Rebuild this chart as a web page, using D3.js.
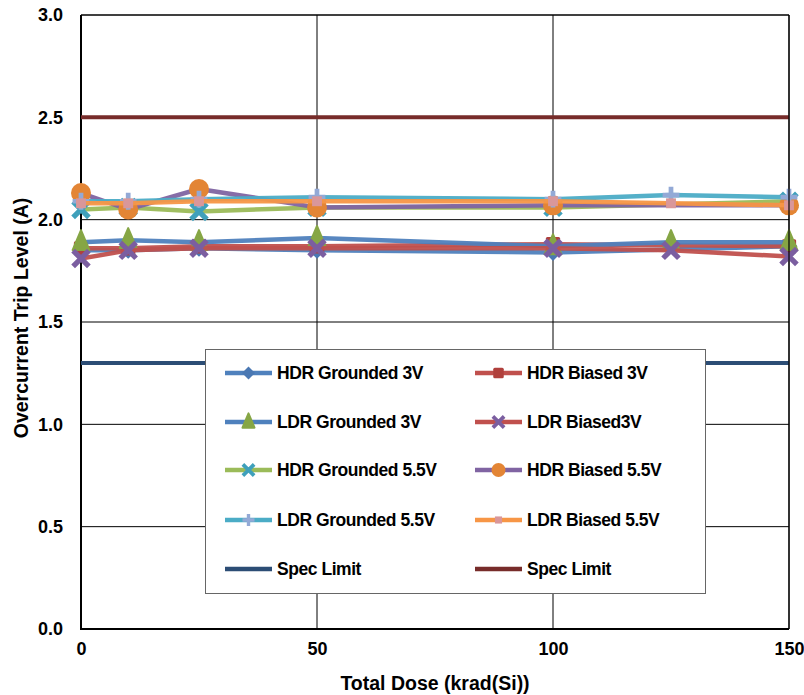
<!DOCTYPE html>
<html><head><meta charset="utf-8">
<script src="https://cdn.jsdelivr.net/npm/d3@7"></script>
<style>body{margin:0;background:#fff}svg{display:block;font-family:Arial,"Liberation Sans",sans-serif;font-weight:bold}</style>
</head><body><svg id="c" width="804" height="695"></svg>
<script>
const xHDR = [0, 10, 25, 50, 100, 150];
const xLDR = [0, 10, 25, 50, 100, 125, 150];
const hdrGrounded3 = [1.85, 1.85, 1.86, 1.85, 1.84, 1.87];
const hdrBiased3 = [1.86, 1.86, 1.87, 1.87, 1.88, 1.87];
const ldrGrounded3 = [1.89, 1.90, 1.89, 1.91, 1.87, 1.89, 1.89];
const ldrBiased3 = [1.81, 1.85, 1.86, 1.86, 1.86, 1.85, 1.82];
const hdrGrounded55 = [2.05, 2.06, 2.04, 2.06, 2.06, 2.09];
const hdrBiased55 = [2.13, 2.05, 2.15, 2.06, 2.07, 2.07];
const ldrGrounded55 = [2.09, 2.09, 2.10, 2.11, 2.10, 2.12, 2.11];
const ldrBiased55 = [2.08, 2.08, 2.09, 2.09, 2.09, 2.08, 2.07];
const specLow = 1.3, specHigh = 2.5;
const xTicks = [0, 50, 100, 150];
const yTicks = [0, 0.5, 1.0, 1.5, 2.0, 2.5, 3.0];

const series = [
  {name:"HDR Grounded 3V", xs:xHDR, ys:hdrGrounded3, line:"#4f81bd", mark:"diamond", mc:"#4a78b3"},
  {name:"HDR Biased 3V", xs:xHDR, ys:hdrBiased3, line:"#c0504d", mark:"square", mc:"#b0403c"},
  {name:"LDR Grounded 3V", xs:xLDR, ys:ldrGrounded3, line:"#4f81bd", mark:"triangle", mc:"#86a645"},
  {name:"LDR Biased3V", xs:xLDR, ys:ldrBiased3, line:"#c0504d", mark:"x", mc:"#7b5ea0"},
  {name:"HDR Grounded 5.5V", xs:xHDR, ys:hdrGrounded55, line:"#9bbb59", mark:"x", mc:"#3fa0bb"},
  {name:"HDR Biased 5.5V", xs:xHDR, ys:hdrBiased55, line:"#8064a2", mark:"circle", mc:"#e38535"},
  {name:"LDR Grounded 5.5V", xs:xLDR, ys:ldrGrounded55, line:"#4bacc6", mark:"plus", mc:"#93a9d6"},
  {name:"LDR Biased 5.5V", xs:xLDR, ys:ldrBiased55, line:"#f79646", mark:"smallsquare", mc:"#d9979a"}
];
const specs = [
  {name:"Spec Limit", v:specLow, color:"#2c4d75"},
  {name:"Spec Limit", v:specHigh, color:"#772c2a"}
];

const svg = d3.select("#c");
const L = 81, R = 789, T = 15, B = 629;
const x = d3.scaleLinear().domain([0,150]).range([L,R]);
const y = d3.scaleLinear().domain([0,3]).range([B,T]);

// gridlines
svg.append("g").selectAll("line").data(yTicks.filter(d=>d>0)).join("line")
  .attr("x1",L).attr("x2",R).attr("y1",d=>y(d)).attr("y2",d=>y(d))
  .attr("stroke","#000").attr("stroke-width",1);
svg.append("g").selectAll("line").data(xTicks.filter(d=>d>0)).join("line")
  .attr("y1",T).attr("y2",B).attr("x1",d=>x(d)).attr("x2",d=>x(d))
  .attr("stroke","#000").attr("stroke-width",1);

// axes
const yAxis = svg.append("g").attr("transform",`translate(${L},0)`)
  .call(d3.axisLeft(y).tickValues(yTicks).tickFormat(d3.format(".1f")).tickSize(0).tickPadding(18));
const xAxis = svg.append("g").attr("transform",`translate(0,${B})`)
  .call(d3.axisBottom(x).tickValues(xTicks).tickSize(0).tickPadding(13));
[yAxis,xAxis].forEach(a=>{a.select(".domain").remove();a.selectAll("text").attr("font-size",18).attr("font-weight","bold").attr("fill","#000").attr("font-family","Arial, Liberation Sans, sans-serif");});
svg.append("line").attr("x1",L).attr("x2",L).attr("y1",T).attr("y2",B+1).attr("stroke","#000").attr("stroke-width",2);
svg.append("line").attr("x1",L).attr("x2",R).attr("y1",B).attr("y2",B).attr("stroke","#000").attr("stroke-width",2);

// spec lines
svg.append("g").selectAll("line").data(specs).join("line")
  .attr("x1",x(0)).attr("x2",x(150)).attr("y1",d=>y(d.v)).attr("y2",d=>y(d.v))
  .attr("stroke",d=>d.color).attr("stroke-width",4);

function drawMarker(g, type, color, cx, cy, s){
  if(type==="diamond") g.append("path").attr("d",`M${cx},${cy-s}L${cx+s},${cy}L${cx},${cy+s}L${cx-s},${cy}Z`).attr("fill",color);
  else if(type==="square") g.append("rect").attr("x",cx-s*0.75).attr("y",cy-s*0.75).attr("width",s*1.5).attr("height",s*1.5).attr("rx",1.5).attr("fill",color);
  else if(type==="smallsquare") g.append("rect").attr("x",cx-s*0.55).attr("y",cy-s*0.55).attr("width",s*1.1).attr("height",s*1.1).attr("fill",color);
  else if(type==="triangle") g.append("path").attr("d",`M${cx},${cy-s*1.15}L${cx+s*0.8},${cy+s*0.75}L${cx-s*0.8},${cy+s*0.75}Z`).attr("fill",color).attr("stroke",color).attr("stroke-width",2).attr("stroke-linejoin","round");
  else if(type==="circle") g.append("circle").attr("cx",cx).attr("cy",cy).attr("r",s).attr("fill",color);
  else if(type==="x") g.append("path").attr("d",`M${cx-s*0.75},${cy-s*0.75}L${cx+s*0.75},${cy+s*0.75}M${cx-s*0.75},${cy+s*0.75}L${cx+s*0.75},${cy-s*0.75}`).attr("stroke",color).attr("stroke-width",s*0.5).attr("fill","none");
  else if(type==="plus") g.append("path").attr("d",`M${cx-s*0.8},${cy}L${cx+s*0.8},${cy}M${cx},${cy-s*0.8}L${cx},${cy+s*0.8}`).attr("stroke",color).attr("stroke-width",s*0.45).attr("fill","none");
}
const msize = {diamond:8.5, square:9.5, triangle:10.5, x:10.5, circle:10, plus:10.5, smallsquare:9};

const line = d3.line().x(d=>x(d[0])).y(d=>y(d[1]));
series.forEach(s=>{
  const pts = s.xs.map((v,i)=>[v,s.ys[i]]);
  const g = svg.append("g");
  g.append("path").attr("d",line(pts)).attr("fill","none").attr("stroke",s.line).attr("stroke-width",4.5).attr("stroke-linejoin","round").attr("stroke-opacity",0.95);
  pts.forEach(p=>drawMarker(g, s.mark, s.mc, x(p[0]), y(p[1]), msize[s.mark]));
});

// plot border (top/right)
svg.append("line").attr("x1",L).attr("x2",R).attr("y1",T).attr("y2",T).attr("stroke","#000").attr("stroke-width",1.2);
svg.append("line").attr("x1",R).attr("x2",R).attr("y1",T).attr("y2",B).attr("stroke","#000").attr("stroke-width",1.2);

// legend
const lg = svg.append("g");
lg.append("rect").attr("x",205.5).attr("y",349.5).attr("width",500).attr("height",244).attr("fill","#fff").attr("stroke","#666").attr("stroke-width",1);
const items = series.map(s=>({name:s.name, line:s.line, mark:s.mark, mc:s.mc})).concat(specs.map(s=>({name:s.name,line:s.color,mark:null})));
const rowY = [373, 422, 470, 520, 569];
const colX = [225, 475];
const ms2 = {diamond:6.5, square:7, triangle:7.5, x:7.5, circle:7, plus:7.5, smallsquare:6.5};
items.forEach((it,i)=>{
  const cx = colX[i%2], cy = rowY[Math.floor(i/2)];
  lg.append("line").attr("x1",cx).attr("x2",cx+47).attr("y1",cy).attr("y2",cy).attr("stroke",it.line).attr("stroke-width",4.5);
  if(it.mark) drawMarker(lg, it.mark, it.mc, cx+23.5, cy, ms2[it.mark]);
  lg.append("text").attr("x",cx+52).attr("y",cy).attr("dy","0.36em").attr("font-size",17.5).attr("letter-spacing","-0.45px").text(it.name);
});

// titles
svg.append("text").attr("x",x(75)).attr("y",690).attr("text-anchor","middle").attr("font-size",19.5).text("Total Dose (krad(Si))");
svg.append("text").attr("transform",`translate(28,318) rotate(-90)`).attr("text-anchor","middle").attr("font-size",19.5).text("Overcurrent Trip Level (A)");
</script></body></html>
